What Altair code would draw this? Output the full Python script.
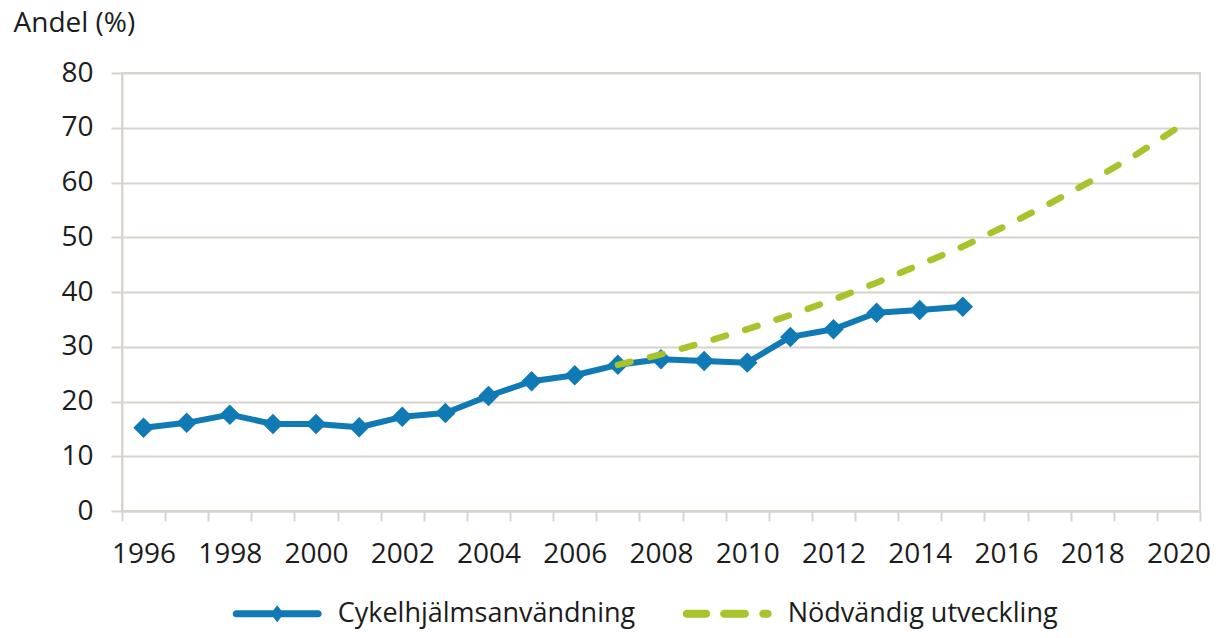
import altair as alt
import pandas as pd

# ---- data ----
all_years = list(range(1996, 2021))
helmet_years = list(range(1996, 2016))
helmet_values = [15.2, 16.1, 17.6, 15.9, 15.9, 15.3, 17.2, 17.9, 21.0, 23.7,
                 24.8, 26.7, 27.7, 27.4, 27.1, 31.8, 33.2, 36.2, 36.7, 37.3]
target_years = list(range(2007, 2021))
target_values = [26.7, 28.6, 30.8, 33.2, 35.8, 38.6, 41.7, 45.0, 48.3, 52.1,
                 56.1, 60.4, 65.0, 70.1]
series_names = ["Cykelhjälmsanvändning", "Nödvändig utveckling"]
y_ticks = [0, 10, 20, 30, 40, 50, 60, 70, 80]

helmet = pd.DataFrame({"year": helmet_years, "value": helmet_values, "series": series_names[0]})
target = pd.DataFrame({"year": target_years, "value": target_values, "series": series_names[1]})
both = pd.concat([helmet, target], ignore_index=True)

FONT = "Open Sans"
BLUE = "#0f7ab4"
GREEN = "#a7c42c"
GRID = "#d8d4cd"
TEXT = "#1c1c1c"

# legend symbols (unit coordinates, scaled by the legend symbol size)
PATH_BLUE = ("M-0.92,-0.08H0.92A0.08,0.08 0 0 1 0.92,0.08H-0.92A0.08,0.08 0 0 1 -0.92,-0.08Z "
             "M0,-0.19L0.15,0L0,0.19L-0.15,0Z")
PATH_GREEN = ("M-0.91,-0.09H-0.47A0.09,0.09 0 0 1 -0.47,0.09H-0.91A0.09,0.09 0 0 1 -0.91,-0.09Z "
              "M-0.07,-0.09H0.40A0.09,0.09 0 0 1 0.40,0.09H-0.07A0.09,0.09 0 0 1 -0.07,-0.09Z "
              "M0.81,-0.09H0.91A0.09,0.09 0 0 1 0.91,0.09H0.81A0.09,0.09 0 0 1 0.81,-0.09Z")

x_enc = alt.X(
    "year:O",
    scale=alt.Scale(type="band", domain=all_years, paddingInner=0, paddingOuter=0),
    axis=alt.Axis(
        title=None, labelAngle=0, tickBand="extent", grid=False,
        labelExpr="datum.value % 2 == 0 ? datum.label : ''",
        tickSize=10, labelPadding=19, labelBaseline="top",
    ),
)
y_enc = alt.Y(
    "value:Q",
    scale=alt.Scale(domain=[0, 80], nice=False, zero=True),
    axis=alt.Axis(
        values=y_ticks, title="Andel (%)", titleAngle=0, titleAlign="left",
        titleBaseline="alphabetic", titleX=-109, titleY=-42,
        tickSize=11, labelPadding=18, grid=True,
    ),
)

legend_def = alt.Legend(
    title=None, orient="none", legendX=110.7, legendY=496, direction="horizontal",
    symbolSize=7921, symbolOpacity=1, symbolStrokeWidth=0,
    labelFont=FONT, labelFontSize=27, labelColor=TEXT, labelOffset=16,
    columnPadding=46, padding=0, labelLimit=600,
)

legend_layer = alt.Chart(both).mark_point(filled=True, opacity=0).encode(
    x=x_enc, y=y_enc,
    color=alt.Color("series:N", scale=alt.Scale(domain=series_names, range=[BLUE, GREEN]), legend=legend_def),
    shape=alt.Shape("series:N", scale=alt.Scale(domain=series_names, range=[PATH_BLUE, PATH_GREEN]), legend=legend_def),
)

blue_line = alt.Chart(helmet).mark_line(color=BLUE, strokeWidth=6, strokeJoin="round").encode(x=x_enc, y=y_enc)
blue_points = alt.Chart(helmet).mark_point(shape="diamond", filled=True, size=420, color=BLUE, opacity=1).encode(x=x_enc, y=y_enc)
green_line = alt.Chart(target).mark_line(
    color=GREEN, strokeWidth=6.5, strokeDash=[13, 20], strokeCap="round"
).encode(x=x_enc, y=y_enc)

chart = alt.layer(legend_layer, blue_line, blue_points, green_line).properties(
    width=1078, height=438,
    padding={"left": 114, "top": 65, "right": 15, "bottom": 119},
    autosize=alt.AutoSizeParams(type="none"),
).configure_axis(
    labelFont=FONT, labelFontSize=28, labelColor=TEXT,
    titleFont=FONT, titleFontSize=28, titleColor=TEXT, titleFontWeight="normal",
    domainColor=GRID, domainWidth=2, tickColor=GRID, tickWidth=2,
    gridColor=GRID, gridWidth=2,
).configure_view(stroke=GRID, strokeWidth=2)

chart.save("out.html", embed_options={"renderer": "svg", "actions": False})
